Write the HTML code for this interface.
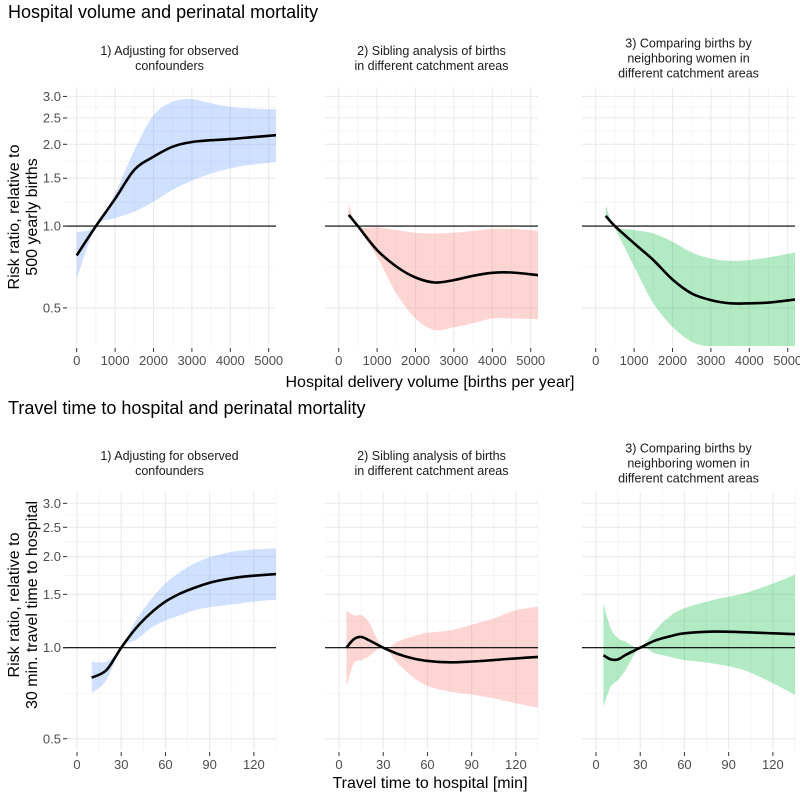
<!DOCTYPE html>
<html><head><meta charset="utf-8"><style>
body{margin:0;background:#fff;}
svg{display:block;font-family:"Liberation Sans",Arial,sans-serif;}
</style></head><body>
<svg id="chart" width="800" height="794" viewBox="0 0 800 794">
<text x="8" y="18" font-size="18" fill="#000">Hospital volume and perinatal mortality</text>
<text x="8" y="414" font-size="18" fill="#000">Travel time to hospital and perinatal mortality</text>
<g id="plots"></g>
</svg>
<script>
// ---- Top row: hospital volume ----
const volX1 = [0, 500, 1000, 1500, 2000, 2500, 3000, 3500, 4000, 4500, 5200];
const volLine1 = [0.78, 1.0, 1.26, 1.61, 1.80, 1.96, 2.04, 2.07, 2.09, 2.12, 2.16];
const volUpper1 = [0.95, 1.0, 1.32, 1.90, 2.56, 2.87, 2.93, 2.83, 2.75, 2.71, 2.69];
const volLower1 = [0.64, 0.99, 1.07, 1.13, 1.23, 1.36, 1.47, 1.56, 1.63, 1.68, 1.72];

const volX2 = [260, 500, 1000, 1500, 2000, 2500, 3000, 3500, 4000, 4500, 5200];
const volLine2 = [1.10, 1.0, 0.816, 0.71, 0.647, 0.62, 0.633, 0.656, 0.673, 0.675, 0.66];
const volUpper2 = [1.21, 1.0, 0.99, 0.967, 0.945, 0.94, 0.945, 0.96, 0.977, 0.977, 0.96];
const volLower2 = [1.12, 0.99, 0.77, 0.565, 0.457, 0.414, 0.424, 0.439, 0.457, 0.457, 0.454];

const volX3 = [260, 500, 1000, 1500, 2000, 2500, 3000, 3500, 4000, 4500, 5200];
const volLine3 = [1.09, 1.0, 0.864, 0.75, 0.636, 0.565, 0.534, 0.52, 0.52, 0.523, 0.537];
const volUpper3 = [1.19, 1.0, 0.967, 0.94, 0.875, 0.80, 0.76, 0.745, 0.75, 0.767, 0.80];
const volLower3 = [1.08, 0.98, 0.71, 0.52, 0.426, 0.375, 0.36, 0.36, 0.36, 0.36, 0.36];

// ---- Bottom row: travel time ----
const timeX1 = [10, 20, 30, 40, 50, 60, 70, 80, 90, 100, 110, 120, 135];
const timeLine1 = [0.796, 0.844, 1.0, 1.16, 1.30, 1.42, 1.51, 1.58, 1.64, 1.68, 1.71, 1.73, 1.75];
const timeUpper1 = [0.90, 0.90, 1.0, 1.23, 1.44, 1.63, 1.78, 1.90, 1.99, 2.05, 2.09, 2.11, 2.13];
const timeLower1 = [0.707, 0.782, 1.0, 1.06, 1.16, 1.23, 1.28, 1.33, 1.36, 1.38, 1.40, 1.42, 1.44];

const timeX2 = [5, 10, 15, 20, 30, 40, 50, 60, 75, 90, 105, 120, 137];
const timeLine2 = [1.0, 1.066, 1.085, 1.06, 1.0, 0.953, 0.922, 0.904, 0.895, 0.9, 0.91, 0.922, 0.934];
const timeUpper2 = [1.33, 1.28, 1.28, 1.22, 1.0, 1.05, 1.09, 1.12, 1.14, 1.19, 1.25, 1.33, 1.37];
const timeLower2 = [0.74, 0.886, 0.91, 0.934, 1.0, 0.886, 0.80, 0.747, 0.716, 0.70, 0.68, 0.655, 0.63];

const timeX3 = [5, 10, 15, 20, 30, 40, 50, 60, 80, 100, 120, 137];
const timeLine3 = [0.944, 0.915, 0.915, 0.946, 1.0, 1.055, 1.09, 1.116, 1.13, 1.125, 1.116, 1.107];
const timeUpper3 = [1.40, 1.16, 1.074, 1.047, 1.0, 1.14, 1.27, 1.35, 1.44, 1.51, 1.63, 1.76];
const timeLower3 = [0.64, 0.743, 0.782, 0.844, 1.0, 0.957, 0.934, 0.91, 0.886, 0.844, 0.763, 0.69];

const yTicks = [0.5, 1.0, 1.5, 2.0, 2.5, 3.0];
const yTickLabels = ["0.5", "1.0", "1.5", "2.0", "2.5", "3.0"];
const yMinor = [0.707, 1.225, 1.732, 2.236, 2.739];
const volTicks = [0, 1000, 2000, 3000, 4000, 5000];
const volMinor = [500, 1500, 2500, 3500, 4500];
const timeTicks = [0, 30, 60, 90, 120];
const timeMinor = [15, 45, 75, 105, 135];

const NS = "http://www.w3.org/2000/svg";
const root = document.getElementById("plots");
function mk(tag, attrs, parent) {
  const e = document.createElementNS(NS, tag);
  for (const k in attrs) e.setAttribute(k, attrs[k]);
  (parent || root).appendChild(e);
  return e;
}
// smooth path through pixel points (Catmull-Rom -> cubic Bezier)
function smooth(pts, start) {
  let d = (start ? "M" : "L") + pts[0][0].toFixed(1) + "," + pts[0][1].toFixed(1);
  for (let i = 0; i < pts.length - 1; i++) {
    const p0 = pts[i - 1] || pts[i], p1 = pts[i], p2 = pts[i + 1], p3 = pts[i + 2] || p2;
    const c1 = [p1[0] + (p2[0] - p0[0]) / 6, p1[1] + (p2[1] - p0[1]) / 6];
    const c2 = [p2[0] - (p3[0] - p1[0]) / 6, p2[1] - (p3[1] - p1[1]) / 6];
    d += "C" + c1[0].toFixed(1) + "," + c1[1].toFixed(1) + " " + c2[0].toFixed(1) + "," + c2[1].toFixed(1) + " " + p2[0].toFixed(1) + "," + p2[1].toFixed(1);
  }
  return d;
}
const fills = ["#619CFF", "#F8766D", "#00BA38"];
const lefts = [63, 325, 582];
const W = 213;

function panel(row, idx, xs, line, up, lo, title, cfg) {
  const L = lefts[idx], R = L + W, T = cfg.top, B = cfg.bottom;
  const sx = v => L + (v - cfg.xmin) / (cfg.xmax - cfg.xmin) * W;
  const sy = v => B - (Math.log(v) - Math.log(cfg.ymin)) / (Math.log(cfg.ymax) - Math.log(cfg.ymin)) * (B - T);
  const g = mk("g", {});
  
  
  const cid = "clip-" + row + idx;
  const cp = mk("clipPath", { id: cid }, g);
  mk("rect", { x: L, y: T, width: W, height: B - T }, cp);
  cfg.minorX.forEach(v => { const x = sx(v); if (x >= L && x <= R) mk("line", { x1: x, x2: x, y1: T, y2: B, stroke: "#f2f2f2", "stroke-width": 0.8 }, g); });
  yMinor.forEach(v => { const y = sy(v); mk("line", { x1: L, x2: R, y1: y, y2: y, stroke: "#f2f2f2", "stroke-width": 0.8 }, g); });
  cfg.ticks.forEach(v => { const x = sx(v); mk("line", { x1: x, x2: x, y1: T, y2: B, stroke: "#ebebeb", "stroke-width": 1.2 }, g); });
  yTicks.forEach(v => { const y = sy(v); mk("line", { x1: L, x2: R, y1: y, y2: y, stroke: "#ebebeb", "stroke-width": 1.2 }, g); });
  // ribbon
  const upPts = xs.map((x, i) => [sx(x), sy(up[i])]);
  const loPts = xs.map((x, i) => [sx(x), sy(lo[i])]).reverse();
  const d = smooth(upPts, true) + smooth(loPts, false) + "Z";
  const rib = mk("path", { d: d, fill: fills[idx], "fill-opacity": 0.3, "clip-path": "url(#" + cid + ")" }, g);
  
  
  const ref = mk("line", { x1: L, x2: R, y1: sy(1), y2: sy(1), stroke: "#000", "stroke-width": 1.1 }, g);
  
  
  const p = smooth(xs.map((x, i) => [sx(x), sy(line[i])]), true);
  const est = mk("path", { d: p, fill: "none", stroke: "#000", "stroke-width": 2.6, "stroke-linejoin": "round", "clip-path": "url(#" + cid + ")" }, g);
  
  
  cfg.ticks.forEach(v => {
    const x = sx(v);
    mk("line", { x1: x, x2: x, y1: B + 2, y2: B + 6, stroke: "#333", "stroke-width": 1 }, g);
    const t = mk("text", { x: x, y: B + 19, "font-size": 13, fill: "#4d4d4d", "text-anchor": "middle" }, g);
    t.textContent = String(v);
    
    
  });
  if (idx === 0) {
    yTicks.forEach((v, i) => {
      const y = sy(v);
      mk("line", { x1: L, x2: L + 4, y1: y, y2: y, stroke: "#333", "stroke-width": 1 }, g);
      const t = mk("text", { x: L - 2, y: y + 4.5, "font-size": 13, fill: "#4d4d4d", "text-anchor": "end" }, g);
      t.textContent = yTickLabels[i];
      
      
    });
  }
  const n = title.length;
  const mid = cfg.stripMid;
  title.forEach((s, i) => {
    const t = mk("text", { x: L + W / 2, y: mid + (i - (n - 1) / 2) * 15 + 4.5, "font-size": 12.5, fill: "#1a1a1a", "text-anchor": "middle" }, g);
    t.textContent = s;
    
    
  });
}

const titles = [["1) Adjusting for observed", "confounders"], ["2) Sibling analysis of births", "in different catchment areas"], ["3) Comparing births by", "neighboring women in", "different catchment areas"]];
const topCfg = { top: 87, bottom: 346, xmin: -357, xmax: 5190, ymin: 0.362, ymax: 3.25, ticks: volTicks, minorX: volMinor, stripMid: 58 };
const botCfg = { top: 492, bottom: 750, xmin: -9.5, xmax: 135, ymin: 0.459, ymax: 3.27, ticks: timeTicks, minorX: timeMinor, stripMid: 463 };
panel("top", 0, volX1, volLine1, volUpper1, volLower1, titles[0], topCfg);
panel("top", 1, volX2, volLine2, volUpper2, volLower2, titles[1], topCfg);
panel("top", 2, volX3, volLine3, volUpper3, volLower3, titles[2], topCfg);
panel("bottom", 0, timeX1, timeLine1, timeUpper1, timeLower1, titles[0], botCfg);
panel("bottom", 1, timeX2, timeLine2, timeUpper2, timeLower2, titles[1], botCfg);
panel("bottom", 2, timeX3, timeLine3, timeUpper3, timeLower3, titles[2], botCfg);

function axisTitle(txt, x, y, rot, name) {
  const t = mk("text", { x: x, y: y, "font-size": 16, fill: "#000", "text-anchor": "middle" });
  if (rot) t.setAttribute("transform", "rotate(-90 " + x + " " + y + ")");
  t.textContent = txt;
  
  
}
axisTitle("Hospital delivery volume [births per year]", 430, 387, false, "top-x-axis-title");
axisTitle("Travel time to hospital [min]", 430, 788, false, "bottom-x-axis-title");
axisTitle("Risk ratio, relative to", 19, 217, true, "top-y-axis-title-line1");
axisTitle("500 yearly births", 37, 217, true, "top-y-axis-title-line2");
axisTitle("Risk ratio, relative to", 19, 605, true, "bottom-y-axis-title-line1");
axisTitle("30 min. travel time to hospital", 37, 605, true, "bottom-y-axis-title-line2");
</script>
</body></html>
